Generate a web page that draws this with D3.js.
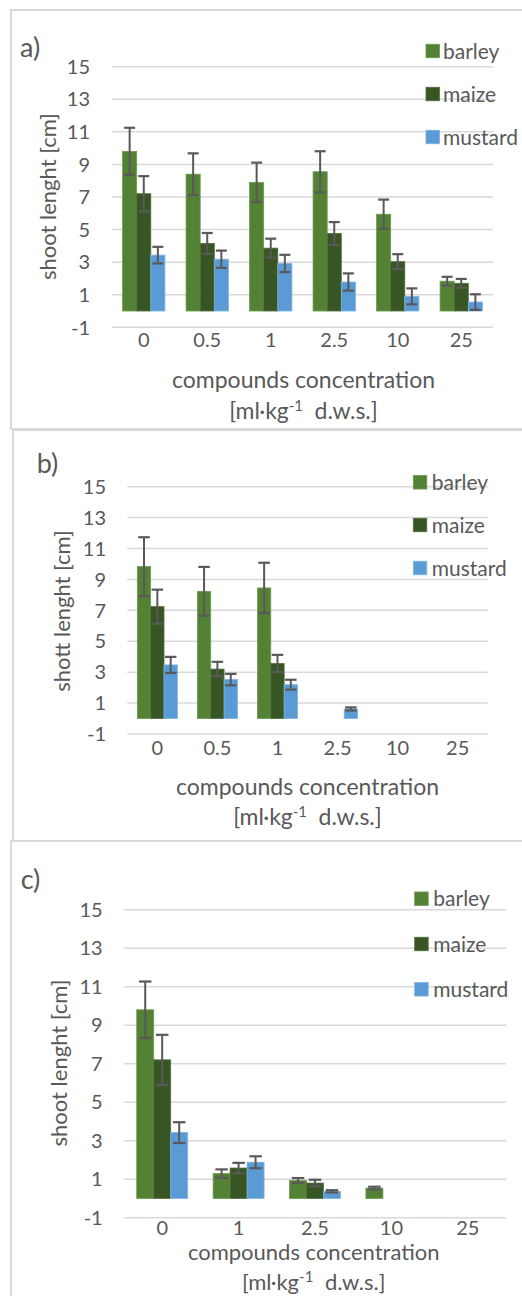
<!DOCTYPE html>
<html>
<head>
<meta charset="utf-8">
<script src="https://cdn.jsdelivr.net/npm/d3@7"></script>
<style>
  body { margin: 0; background: #fff; }
  svg { display: block; }
  text { font-family: Lato, "Open Sans", sans-serif; fill: #595959; }
</style>
</head>
<body>
<svg id="chart" width="522" height="1296"></svg>
<script>
// ---------- DATA ----------
const seriesNames = ["barley", "maize", "mustard"];
const yTicks = [-1, 1, 3, 5, 7, 9, 11, 13, 15];

// panel a)
const catsA = ["0", "0.5", "1", "2.5", "10", "25"];
const barleyA = [9.8, 8.4, 7.9, 8.55, 5.94, 1.83];
const barleyErrA = [1.45, 1.28, 1.21, 1.26, 0.9, 0.27];
const maizeA = [7.2, 4.15, 3.86, 4.76, 3.03, 1.7];
const maizeErrA = [1.08, 0.64, 0.58, 0.7, 0.46, 0.27];
const mustardA = [3.43, 3.18, 2.92, 1.78, 0.9, 0.55];
const mustardErrA = [0.51, 0.53, 0.53, 0.53, 0.49, 0.48];

// panel b)
const catsB = ["0", "0.5", "1", "2.5", "10", "25"];
const barleyB = [9.83, 8.23, 8.45, null, null, null];
const barleyErrB = [1.9, 1.58, 1.63, null, null, null];
const maizeB = [7.24, 3.2, 3.56, null, null, null];
const maizeErrB = [1.1, 0.47, 0.56, null, null, null];
const mustardB = [3.47, 2.52, 2.19, 0.62, null, null];
const mustardErrB = [0.52, 0.37, 0.32, 0.1, null, null];

// panel c)
const catsC = ["0", "1", "2.5", "10", "25"];
const barleyC = [9.8, 1.29, 0.93, 0.54, null];
const barleyErrC = [1.47, 0.22, 0.13, 0.07, null];
const maizeC = [7.2, 1.58, 0.8, null, null];
const maizeErrC = [1.3, 0.27, 0.17, null, null];
const mustardC = [3.42, 1.88, 0.37, null, null];
const mustardErrC = [0.54, 0.31, 0.06, null, null];

const yTitles = ["shoot lenght [cm]", "shott lenght [cm]", "shoot lenght [cm]"];
const panelLabels = ["a)", "b)", "c)"];
const xTitle1 = "compounds concentration";

// ---------- STYLE ----------
const colors = { barley: "#548235", maize: "#375623", mustard: "#5B9BD5" };
const strokes = { barley: "#6f9a52", maize: "#52703f", mustard: "#7fb2e0" };
const gridColor = "#d9d9d9";
const errColor = "#595959";

const svg = d3.select("#chart");

const layouts = [
  { frame: [11, 10, 520, 419], x: [112, 493], y: [327.3, 66.7], tickX: 90, xLabY: 340,
    leg: { x: 426, ys: [51, 94, 137], tx: 443 }, lab: [20, 47], yT: [48, 196.6],
    xT: [303.5, 380, 410.5], xTs: 23, cap: 11 },
  { frame: [13, 430, 520, 411], x: [127.3, 487.7], y: [734, 486.7], tickX: 106, xLabY: 747.3,
    leg: { x: 413.3, ys: [482.3, 525, 568], tx: 431.7 }, lab: [36.7, 463], yT: [61.7, 611],
    xT: [307.5, 787, 816.7], xTs: 23, cap: 11.5 },
  { frame: [11, 841, 520, 470], x: [124, 506], y: [1217.7, 909.7], tickX: 102.7, xLabY: 1227.5,
    leg: { x: 414.7, ys: [898.7, 944, 989.3], tx: 433.3 }, lab: [20.7, 879], yT: [59.3, 1063],
    xT: [313.7, 1252.5, 1282], xTs: 22, cap: 12.5 }
];

const panels = [
  { cats: catsA, vals: [barleyA, maizeA, mustardA], errs: [barleyErrA, maizeErrA, mustardErrA] },
  { cats: catsB, vals: [barleyB, maizeB, mustardB], errs: [barleyErrB, maizeErrB, mustardErrB] },
  { cats: catsC, vals: [barleyC, maizeC, mustardC], errs: [barleyErrC, maizeErrC, mustardErrC] }
];

panels.forEach((p, i) => {
  const L = layouts[i];
  const g = svg.append("g");

  // frame
  g.append("rect").attr("x", L.frame[0]).attr("y", L.frame[1])
    .attr("width", L.frame[2]).attr("height", L.frame[3])
    .attr("fill", "none").attr("stroke", gridColor).attr("stroke-width", 2);

  const y = d3.scaleLinear().domain([-1, 15]).range(L.y);
  const x0 = d3.scaleBand().domain(p.cats).range(L.x).paddingInner(1 / 3).paddingOuter(1 / 6);
  const x1 = d3.scaleBand().domain(seriesNames).range([0, x0.bandwidth()]);

  // gridlines
  g.selectAll(".grid").data(yTicks).join("line")
    .attr("x1", L.x[0]).attr("x2", L.x[1])
    .attr("y1", d => y(d)).attr("y2", d => y(d))
    .attr("stroke", gridColor).attr("stroke-width", 1.5);

  // y tick labels
  g.selectAll(".yt").data(yTicks).join("text")
    .attr("x", L.tickX).attr("y", d => y(d)).attr("dy", "0.36em")
    .attr("text-anchor", "end").attr("font-size", 20)
    .text(d => d);

  // x tick labels
  g.selectAll(".xt").data(p.cats).join("text")
    .attr("x", d => x0(d) + x0.bandwidth() / 2).attr("y", L.xLabY).attr("dy", "0.36em")
    .attr("text-anchor", "middle").attr("font-size", 20)
    .text(d => d);

  // bars
  const bw = x1.bandwidth();
  seriesNames.forEach((s, si) => {
    const recs = p.cats.map((c, ci) => ({ c, v: p.vals[si][ci], e: p.errs[si][ci] }))
      .filter(d => d.v != null);
    g.selectAll(".bar-" + s).data(recs).join("rect")
      .attr("x", d => x0(d.c) + x1(s))
      .attr("y", d => y(d.v))
      .attr("width", bw)
      .attr("height", d => y(0) - y(d.v))
      .attr("fill", colors[s]).attr("stroke", strokes[s]).attr("stroke-width", 0.8);
  });
  // error bars
  seriesNames.forEach((s, si) => {
    const recs = p.cats.map((c, ci) => ({ c, v: p.vals[si][ci], e: p.errs[si][ci] }))
      .filter(d => d.v != null && d.e != null);
    const eg = g.selectAll(".err-" + s).data(recs).join("g");
    const cx = d => x0(d.c) + x1(s) + bw / 2;
    eg.append("line").attr("x1", cx).attr("x2", cx)
      .attr("y1", d => y(d.v + d.e)).attr("y2", d => y(d.v - d.e))
      .attr("stroke", errColor).attr("stroke-width", 2);
    [1, -1].forEach(sg => {
      eg.append("line").attr("x1", d => cx(d) - L.cap / 2).attr("x2", d => cx(d) + L.cap / 2)
        .attr("y1", d => y(d.v + sg * d.e)).attr("y2", d => y(d.v + sg * d.e))
        .attr("stroke", errColor).attr("stroke-width", 2.2);
    });
  });

  // legend
  seriesNames.forEach((s, si) => {
    g.append("rect").attr("x", L.leg.x).attr("y", L.leg.ys[si] - 6.75)
      .attr("width", 13.5).attr("height", 13.5)
      .attr("fill", colors[s]).attr("stroke", strokes[s]).attr("stroke-width", 0.8);
    g.append("text").attr("x", L.leg.tx).attr("y", L.leg.ys[si]).attr("dy", "0.36em")
      .attr("font-size", 21).text(s);
  });

  // panel label
  g.append("text").attr("x", L.lab[0]).attr("y", L.lab[1]).attr("dy", "0.36em")
    .attr("font-size", 27).text(panelLabels[i]);

  // y title
  g.append("text")
    .attr("transform", `translate(${L.yT[0]},${L.yT[1]}) rotate(-90)`)
    .attr("dy", "0.36em").attr("text-anchor", "middle").attr("font-size", 22)
    .text(yTitles[i]);

  // x title
  g.append("text").attr("x", L.xT[0]).attr("y", L.xT[1]).attr("dy", "0.36em")
    .attr("text-anchor", "middle").attr("font-size", L.xTs).text(xTitle1);
  const t2 = g.append("text").attr("x", L.xT[0]).attr("y", L.xT[2]).attr("dy", "0.36em")
    .attr("text-anchor", "middle").attr("font-size", L.xTs);
  t2.append("tspan").text("[ml·kg");
  t2.append("tspan").attr("font-size", 15).attr("dy", "-0.5em").text("-1");
  t2.append("tspan").attr("dy", "0.5em").attr("font-size", 15).text("\u00a0\u00a0\u00a0");
  t2.append("tspan").attr("font-size", L.xTs).text("d.w.s.]");
});
</script>
</body>
</html>
